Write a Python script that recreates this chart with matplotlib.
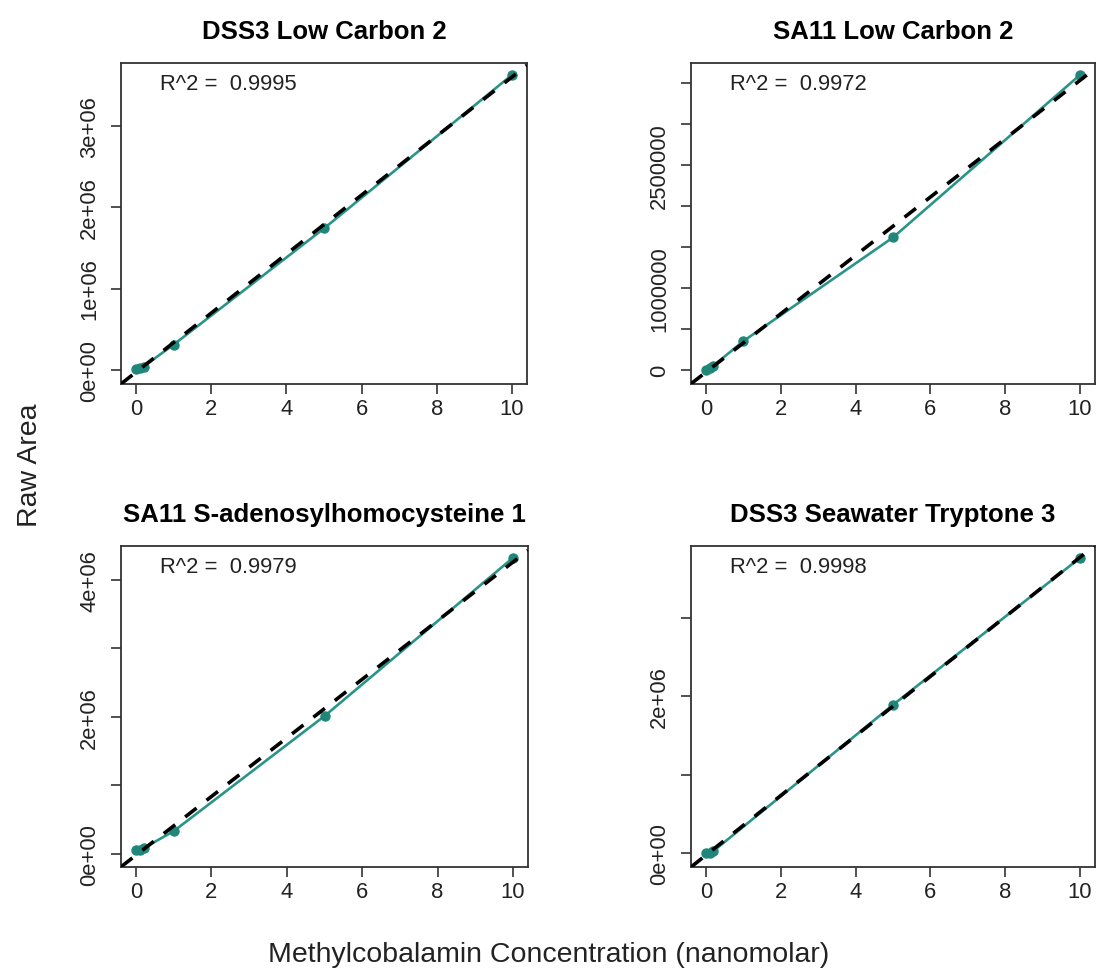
import numpy as np
import matplotlib
matplotlib.use("Agg")
import matplotlib.pyplot as plt

plt.rcParams['font.family'] = ['Liberation Sans', 'DejaVu Sans']

# panel data (x = nanomolar, y = raw area)
titles = ["DSS3 Low Carbon 2", "SA11 Low Carbon 2",
          "SA11 S-adenosylhomocysteine 1", "DSS3 Seawater Tryptone 3"]
r2_text = ["0.9995", "0.9972", "0.9979", "0.9998"]

x_dss3_lc = [0, 0.1, 0.2, 1, 5, 10]
y_dss3_lc = [0.01e6, 0.02e6, 0.04e6, 0.31e6, 1.74e6, 3.63e6]

x_sa11_lc = [0, 0.1, 0.2, 1, 5, 10]
y_sa11_lc = [0.0, 0.02e6, 0.05e6, 0.35e6, 1.615e6, 3.60e6]

x_sa11_sah = [0, 0.1, 0.2, 1, 5, 10]
y_sa11_sah = [0.05e6, 0.06e6, 0.08e6, 0.33e6, 2.01e6, 4.32e6]

x_dss3_st = [0, 0.1, 0.2, 5, 10]
y_dss3_st = [0.0, 0.01e6, 0.03e6, 1.89e6, 3.76e6]

xs = [x_dss3_lc, x_sa11_lc, x_sa11_sah, x_dss3_st]
ys = [y_dss3_lc, y_sa11_lc, y_sa11_sah, y_dss3_st]

x_ticks = [0, 2, 4, 6, 8, 10]
y_ticks = [
    [0, 1e6, 2e6, 3e6],
    [0, 5e5, 1e6, 1.5e6, 2e6, 2.5e6, 3e6, 3.5e6],
    [0, 1e6, 2e6, 3e6, 4e6],
    [0, 1e6, 2e6, 3e6],
]
y_labels = [
    ["0e+00", "1e+06", "2e+06", "3e+06"],
    ["0", "", "1000000", "", "", "2500000", "", ""],
    ["0e+00", "", "2e+06", "", "4e+06"],
    ["0e+00", "", "2e+06", ""],
]

W, H = 1097, 979
fig = plt.figure(figsize=(W / 100, H / 100), dpi=100)

# axes boxes in pixels: left, top, right, bottom
boxes = [(121, 64, 527, 385), (691, 64, 1095, 385),
         (121, 547, 528, 868), (691, 547, 1095, 868)]

teal = "#2a9488"
for i in range(4):
    l, t, r, b = boxes[i]
    ax = fig.add_axes([l / W, 1 - b / H, (r - l) / W, (b - t) / H])
    x = np.array(xs[i])
    y = np.array(ys[i])
    ax.plot(x, y, color=teal, lw=1.9, marker='o', ms=6.5,
            mfc="#21867a", mec="#21867a")
    ax.margins(0.04)
    slope, icpt = np.polyfit(x, y, 1)
    ax.axline((0, icpt), slope=slope, color='black', lw=2.6,
              ls=(0, (4, 3.5)), zorder=3)
    ax.set_xticks(x_ticks)
    ax.set_yticks(y_ticks[i])
    ax.set_yticklabels(y_labels[i], rotation=90, va='center')
    ax.tick_params(labelsize=15.8, length=7, width=1.1, colors='#222222')
    ax.tick_params(axis='x', pad=3)
    ax.tick_params(axis='y', pad=8)
    for s in ax.spines.values():
        s.set_linewidth(1.3)
        s.set_color('#333333')
    ax.set_title(titles[i], fontsize=18.5, fontweight='bold', pad=18)
    ax.text(0.096, 0.935, "R^2 =  " + r2_text[i], transform=ax.transAxes,
            fontsize=15.8, va='center', ha='left', color='#222222')

fig.text(30 / W, 1 - 465 / H, "Raw Area", rotation=90, fontsize=20.5,
         va='center', ha='center', color='#222222')
fig.text(549 / W, 1 - 955 / H, "Methylcobalamin Concentration (nanomolar)",
         fontsize=20.5, va='center', ha='center', color='#222222')

fig.savefig("out.png", dpi=100)
